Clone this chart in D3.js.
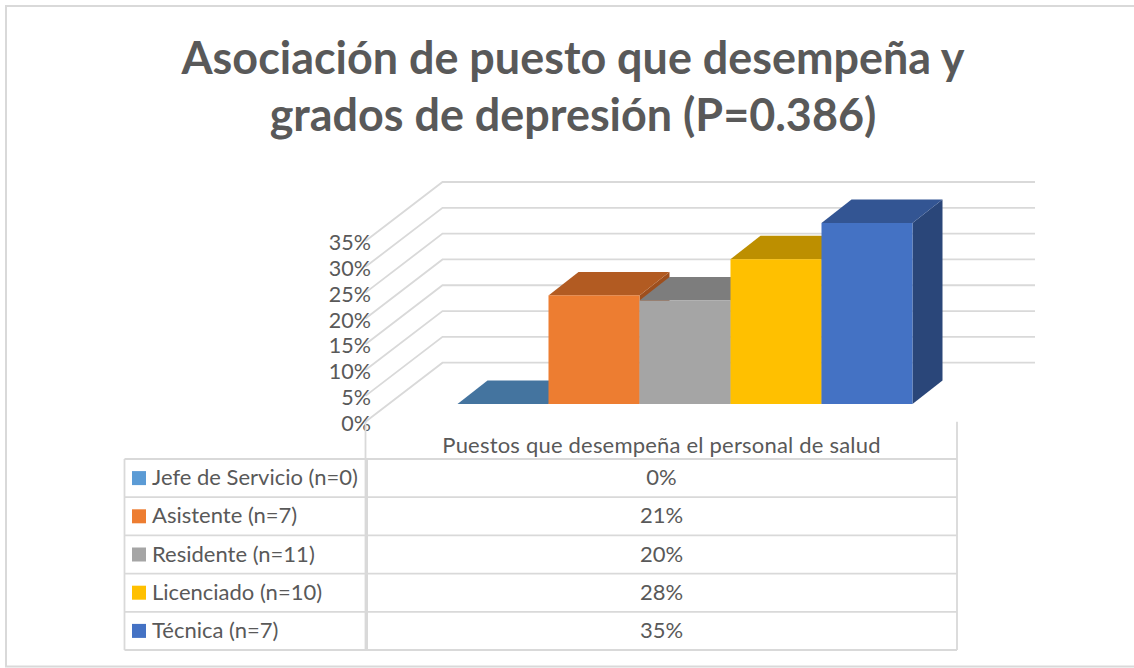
<!DOCTYPE html>
<html><head><meta charset="utf-8">
<script src="https://cdn.jsdelivr.net/npm/d3@7"></script>
<style>html,body{margin:0;padding:0;background:#fff}svg{display:block}text{font-family:Lato,"Open Sans",sans-serif;fill:#595959}</style>
</head><body><div id="chart"></div>
<script>
const titleLines = ["Asociación de puesto que desempeña y", "grados de depresión (P=0.386)"];
const categoryLabel = "Puestos que desempeña el personal de salud";
const seriesNames = ["Jefe de Servicio (n=0)", "Asistente (n=7)", "Residente (n=11)", "Licenciado (n=10)", "Técnica (n=7)"];
const seriesValues = [0, 21, 20, 28, 35];
const seriesValueLabels = ["0%", "21%", "20%", "28%", "35%"];
const frontColors = ["#5b9bd5", "#ed7d31", "#a5a5a5", "#ffc000", "#4472c4"];
const topColors = ["#44749f", "#b25b22", "#7d7d7d", "#bd8f00", "#335593"];
const sideColors = ["#3a6489", "#9e4f1d", "#6c6c6c", "#a57c00", "#2a4679"];
const axisTicks = [0, 5, 10, 15, 20, 25, 30, 35];

const W = 1134, H = 668;
const svg = d3.select("#chart").append("svg").attr("width", W).attr("height", H);
const grid = "#d9d9d9";

svg.append("path").attr("d", "M1134,6H6V666.5H1134").attr("fill", "none").attr("stroke", grid).attr("stroke-width", 2);

svg.selectAll("text.title").data(titleLines).join("text").attr("class", "title")
  .attr("x", 573).attr("y", (d, i) => 74 + i * 57).attr("text-anchor", "middle")
  .attr("font-size", 44.9).attr("font-weight", 700).text(d => d);

// scales
const yFront = d3.scaleLinear().domain([0, 35]).range([404, 223]);
const yWall = d3.scaleLinear().domain([0, 35]).range([362.7, 182]);
const yLeft = d3.scaleLinear().domain([0, 35]).range([421.7, 241]);
const xBars = d3.scaleBand().domain(seriesNames).range([457.5, 912.5]);
const depth = { dx: 30, dy: -23.5 };
const wallLeft = 442.5, wallRight = 1035, floorLeft = 365.5;

// gridlines
const gridG = svg.append("g").attr("fill", "none").attr("stroke", grid).attr("stroke-width", 1.8);
gridG.selectAll("path").data(axisTicks).join("path")
  .attr("d", t => `M${floorLeft},${yLeft(t)}L${wallLeft},${yWall(t)}H${wallRight}`);

// y tick labels
svg.selectAll("text.tick").data(axisTicks).join("text").attr("class", "tick")
  .attr("x", 371).attr("y", t => yLeft(t) + 9.2).attr("text-anchor", "end")
  .attr("font-size", 21.5).text(t => t + "%");

// bars
const pts = a => a.map(p => p.join(",")).join(" ");
seriesNames.forEach((name, i) => {
  const x0 = xBars(name), x1 = x0 + xBars.bandwidth(), y0 = yFront(0), yt = yFront(seriesValues[i]);
  const { dx, dy } = depth;
  const g = svg.append("g");
  if (seriesValues[i] > 0) {
    g.append("polygon").attr("fill", sideColors[i])
      .attr("points", pts([[x1, yt], [x1 + dx, yt + dy], [x1 + dx, y0 + dy], [x1, y0]]));
  }
  g.append("polygon").attr("fill", topColors[i])
    .attr("points", pts([[x0, yt], [x0 + dx, yt + dy], [x1 + dx, yt + dy], [x1, yt]]));
  if (seriesValues[i] > 0) {
    g.append("rect").attr("x", x0).attr("y", yt).attr("width", x1 - x0).attr("height", y0 - yt)
      .attr("fill", frontColors[i]);
  }
});

// table
const tLeft = 124.5, tSep = 365.5, tRight = 957;
const rowY = d3.scaleBand().domain(seriesNames).range([459, 650]);
const tbl = svg.append("g").attr("stroke", grid).attr("stroke-width", 1.8).attr("fill", "none");
tbl.append("path").attr("d", `M${tSep},421.7V650M${tSep + 1.6},459V650M${tRight},421.7V650M${tLeft},459V650`);
tbl.selectAll("line").data(d3.range(seriesNames.length + 1)).join("line")
  .attr("x1", tLeft).attr("x2", tRight)
  .attr("y1", i => 459 + i * rowY.bandwidth()).attr("y2", i => 459 + i * rowY.bandwidth());

svg.append("text").attr("x", 661.5).attr("y", 453).attr("text-anchor", "middle")
  .attr("font-size", 22).attr("letter-spacing", 0.2).text(categoryLabel);

seriesNames.forEach((name, i) => {
  const cy = rowY(name) + rowY.bandwidth() / 2;
  svg.append("rect").attr("x", 132).attr("y", cy - 7).attr("width", 14).attr("height", 14).attr("fill", frontColors[i]);
  svg.append("text").attr("x", 152).attr("y", cy + 7).attr("font-size", 22).text(name);
  svg.append("text").attr("x", 661.5).attr("y", cy + 7).attr("text-anchor", "middle").attr("font-size", 22).text(seriesValueLabels[i]);
});
</script></body></html>
